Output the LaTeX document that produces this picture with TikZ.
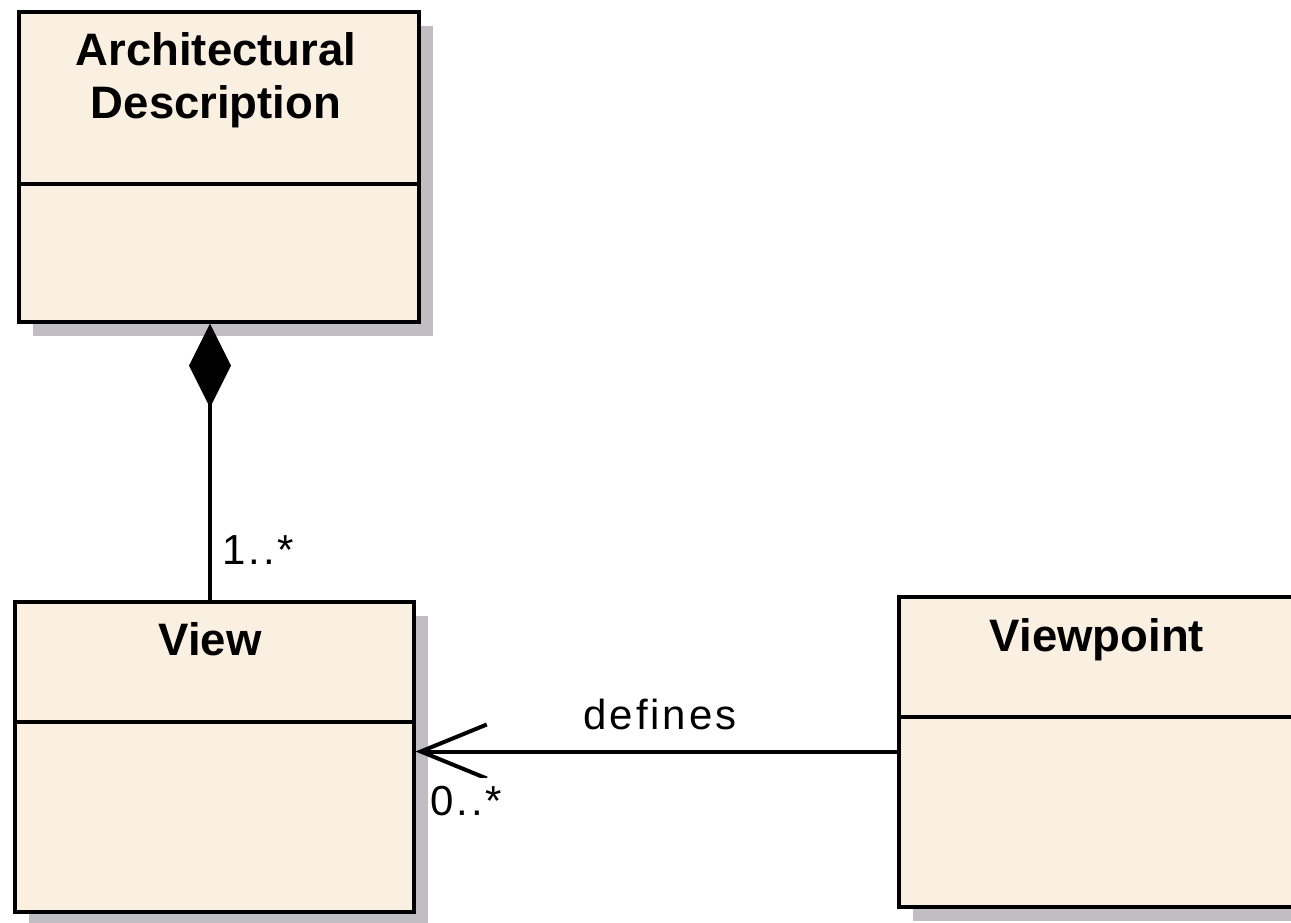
\documentclass[tikz,border=0pt]{standalone}
\usepackage{fontspec}
\setmainfont{Liberation Sans}
\newfontfamily\spacedfont[LetterSpace=7]{Liberation Sans}
\usetikzlibrary{shadows,arrows.meta}
\definecolor{classfill}{RGB}{250,240,225}
\definecolor{shade}{RGB}{192,190,195}
\begin{document}
\begin{tikzpicture}[x=1pt,y=-1pt,
  classbox/.style={draw=black, line width=4pt, fill=classfill, rectangle,
    minimum width=400pt, minimum height=310pt, inner sep=0pt,
    general shadow={fill=shade, shadow xshift=14pt, shadow yshift=-14pt}},
  divider/.style={draw=black, line width=4pt},
  nametext/.style={font=\fontsize{45.5}{53}\selectfont\bfseries, align=center, inner sep=0pt},
  labeltext/.style={font=\spacedfont\fontsize{42}{50}\selectfont, inner sep=0pt},
  conn/.style={draw=black, line width=4pt},
  compo/.style={conn, {Diamond[length=84pt, width=42pt, fill=black]}-},
  navig/.style={conn, -{Straight Barb[length=66pt, width=54pt]}}]
\path[use as bounding box, clip] (0,0) rectangle (1291,922);

% Architectural Description
\node[classbox] (ad) at (218.5,166.5) {};
\draw[divider] (ad.west |- 0,184) -- (ad.east |- 0,184);
\node[nametext] (adname) at (216,80) {Architectural\\Description};

% View
\node[classbox, minimum width=399pt] (vw) at (214,756.5) {};
\draw[divider] (vw.west |- 0,722) -- (vw.east |- 0,722);
\node[nametext, anchor=base] (vwname) at (210,655) {View};

% Viewpoint
\node[classbox] (vp) at (1098.5,751.5) {};
\draw[divider] (vp.west |- 0,717) -- (vp.east |- 0,717);
\node[nametext, anchor=base] (vpname) at (1097,651) {Viewpoint};

% composition
\draw[compo] (vwname |- ad.south) -- (vwname |- vw.north);
\node[labeltext, anchor=base west] (m1) at (222,564) {1..*};

% defines
\draw[navig] (vp.west) -- (vp.west -| vw.east);
\node[labeltext, anchor=base] (deflbl) at (660,729) {defines};
\node[labeltext, anchor=base west, fill=white, inner xsep=2pt, inner ysep=8pt] (m2) at (428,815) {0..*};
\end{tikzpicture}
\end{document}
